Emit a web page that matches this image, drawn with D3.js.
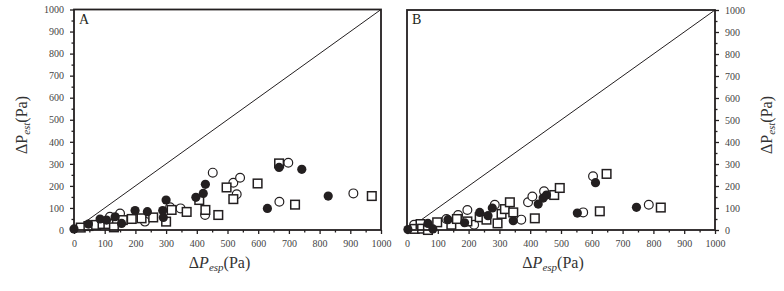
<!DOCTYPE html>
<html>
<head>
<meta charset="utf-8">
<script src="https://cdn.jsdelivr.net/npm/d3@7"></script>
<style>
  body { margin: 0; background: #fff; }
  text { font-family: "Liberation Serif", "DejaVu Serif", serif; }
</style>
</head>
<body>
<svg id="chart" width="784" height="291"></svg>
<script>
// panel A
const aFilled = [[0,5],[47,27],[85,50],[106,45],[134,60],[155,30],[199,88],[239,83],[289,88],[291,57],[300,136],[397,148],[421,166],[428,207],[630,98],[668,284],[742,275],[828,154]]
const aOpen = [[117,60],[150,75],[231,38],[313,103],[347,98],[427,68],[452,260],[519,214],[530,162],[541,237],[669,128],[698,305],[910,166]]
const aSquare = [[22,11],[47,18],[72,23],[93,27],[112,27],[130,12],[159,45],[188,50],[220,53],[258,57],[300,38],[318,91],[367,82],[408,136],[428,91],[470,68],[497,193],[519,140],[598,211],[668,302],[720,115],[970,154]]

// panel B
const bFilled = [[3,2],[68,30],[84,5],[133,47],[187,33],[236,80],[263,65],[277,100],[345,42],[426,118],[442,145],[453,159],[553,77],[612,215],[745,103]]
const bOpen = [[23,24],[128,50],[166,68],[196,91],[218,24],[285,115],[371,47],[393,126],[407,152],[445,176],[572,80],[604,244],[785,115]]
const bSquare = [[25,5],[44,27],[49,6],[68,0],[98,35],[144,24],[162,50],[196,39],[236,58],[258,47],[294,30],[307,73],[318,95],[334,126],[345,80],[415,53],[478,159],[496,191],[626,85],[648,255],[824,102]]

const tickValues = d3.range(0, 1001, 100)
const minorValues = d3.range(50, 1000, 100)

const ink = "#231f20"
const svg = d3.select("#chart")

function panel(opts) {
    const x = d3.scaleLinear().domain([0, 1000]).range([opts.left, opts.right])
    const y = d3.scaleLinear().domain([0, 1000]).range([opts.bottom, opts.top])
    const g = svg.append("g")

    // x axis ticks (outward)
    g.append("g")
        .attr("transform", `translate(0,${opts.bottom})`)
        .call(d3.axisBottom(x).tickValues(tickValues).tickSize(4).tickFormat(d3.format("d")).tickPadding(6))
        .call(a => a.select(".domain").remove())
        .call(a => a.selectAll("line").attr("stroke", ink).attr("stroke-width", 1.3))
        .call(a => a.selectAll("text").attr("fill", "#444").attr("font-size", 10).attr("font-family", "Liberation Serif"))
    g.append("g")
        .attr("transform", `translate(0,${opts.bottom})`)
        .call(d3.axisBottom(x).tickValues(minorValues).tickSize(2.5).tickFormat(""))
        .call(a => a.select(".domain").remove())
        .call(a => a.selectAll("line").attr("stroke", ink).attr("stroke-width", 1.3))

    // y axis (left for A, right for B)
    const axisFn = opts.yRight ? d3.axisRight : d3.axisLeft
    const yPos = opts.yRight ? opts.right : opts.left
    g.append("g")
        .attr("transform", `translate(${yPos},0)`)
        .call(axisFn(y).tickValues(tickValues).tickSize(4).tickFormat(d3.format("d")).tickPadding(6))
        .call(a => a.select(".domain").remove())
        .call(a => a.selectAll("line").attr("stroke", ink).attr("stroke-width", 1.3))
        .call(a => a.selectAll("text").attr("fill", "#444").attr("font-size", 10).attr("font-family", "Liberation Serif"))
    g.append("g")
        .attr("transform", `translate(${yPos},0)`)
        .call(axisFn(y).tickValues(minorValues).tickSize(2.5).tickFormat(""))
        .call(a => a.select(".domain").remove())
        .call(a => a.selectAll("line").attr("stroke", ink).attr("stroke-width", 1.3))

    // 1:1 line
    g.append("line")
        .attr("x1", x(0)).attr("y1", y(0))
        .attr("x2", x(1000)).attr("y2", y(1000))
        .attr("stroke", ink).attr("stroke-width", 1)

    // markers
    g.append("g").selectAll("circle").data(opts.open).join("circle")
        .attr("cx", d => x(d[0])).attr("cy", d => y(d[1])).attr("r", 4.4)
        .attr("fill", "#fff").attr("stroke", ink).attr("stroke-width", 1.2)
    g.append("g").selectAll("rect").data(opts.square).join("rect")
        .attr("x", d => x(d[0]) - 4.3).attr("y", d => y(d[1]) - 4.3)
        .attr("width", 8.6).attr("height", 8.6)
        .attr("fill", "#fff").attr("stroke", ink).attr("stroke-width", 1.5)
    g.append("g").selectAll("circle").data(opts.filled).join("circle")
        .attr("cx", d => x(d[0])).attr("cy", d => y(d[1])).attr("r", 4.6)
        .attr("fill", ink)

    // frame
    g.append("rect")
        .attr("x", opts.left).attr("y", opts.top)
        .attr("width", opts.right - opts.left).attr("height", opts.bottom - opts.top)
        .attr("fill", "none").attr("stroke", ink).attr("stroke-width", 1.8)

    // panel letter
    g.append("text")
        .attr("x", opts.left + 5).attr("y", opts.top + 14)
        .attr("font-size", 14).attr("fill", ink)
        .text(opts.letter)

    // x title
    const xt = g.append("text")
        .attr("x", (opts.left + opts.right) / 2 - 8).attr("y", 268)
        .attr("text-anchor", "middle").attr("font-size", 16).attr("fill", "#333")
    xt.append("tspan").text("Δ")
    xt.append("tspan").attr("font-style", "italic").text("P")
    xt.append("tspan").attr("font-style", "italic").attr("font-size", 11).attr("dy", 3).text("esp")
    xt.append("tspan").attr("dy", -3).text("(Pa)")

    // y title
    const tx = opts.yRight ? 772 : 27
    const yt = g.append("text")
        .attr("transform", `translate(${tx},125) rotate(-90)`)
        .attr("text-anchor", "middle").attr("font-size", 16).attr("fill", "#333")
    yt.append("tspan").text("ΔP")
    yt.append("tspan").attr("font-style", "italic").attr("font-size", 11).attr("dy", 3).text("est")
    yt.append("tspan").attr("dy", -3).text("(Pa)")
}

panel({ left: 74, right: 381, top: 9.5, bottom: 230, yRight: false, letter: "A",
        filled: aFilled, open: aOpen, square: aSquare })
panel({ left: 407, right: 715, top: 10, bottom: 230, yRight: true, letter: "B",
        filled: bFilled, open: bOpen, square: bSquare })
</script>
</body>
</html>
